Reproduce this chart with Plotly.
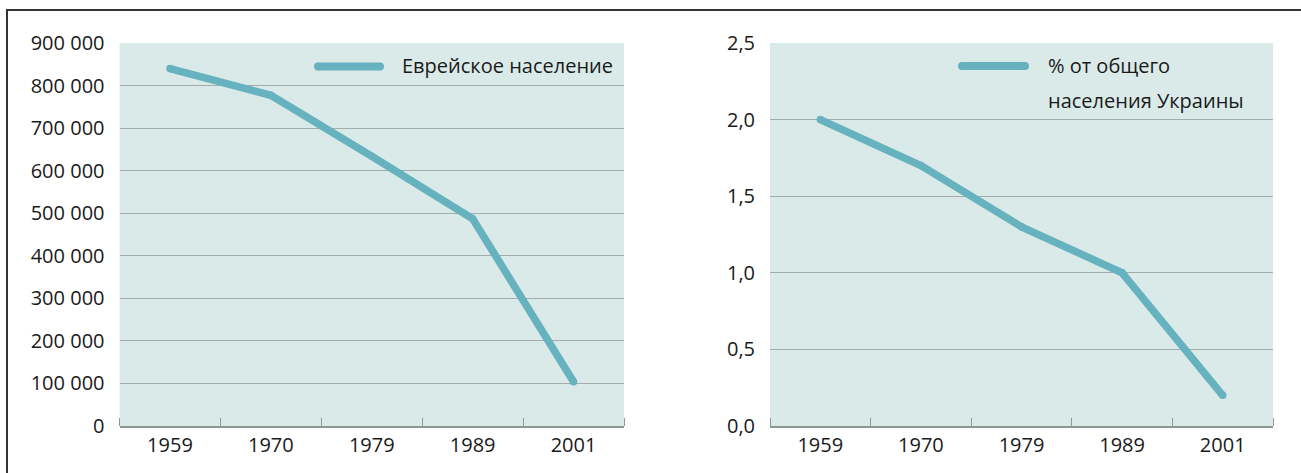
import plotly.graph_objects as go

years = ["1959", "1970", "1979", "1989", "2001"]
jewish_population = [840000, 777000, 634000, 487000, 104000]
share_of_ukraine_pct = [2.0, 1.7, 1.3, 1.0, 0.2]
legend_left = "Еврейское население"
legend_right_1 = "% от общего"
legend_right_2 = "населения Украины"

W, H = 1301, 473
LINE = "#66b2bf"
BG = "#daeae9"
GRID = "#a3abab"
FONT = "Open Sans"
FS = 20

def px(x):
    return x / W

def py(y):
    return 1 - y / H

xs = list(range(len(years)))

fig = go.Figure()
fig.add_trace(go.Scatter(x=xs, y=jewish_population, mode="lines+markers",
                         line=dict(color=LINE, width=7.5), marker=dict(color=LINE, size=7.5),
                         xaxis="x", yaxis="y", showlegend=False, hoverinfo="skip"))
fig.add_trace(go.Scatter(x=xs, y=share_of_ukraine_pct, mode="lines+markers",
                         line=dict(color=LINE, width=7.5), marker=dict(color=LINE, size=7.5),
                         xaxis="x2", yaxis="y2", showlegend=False, hoverinfo="skip"))

xcommon = dict(range=[-0.5, len(years) - 0.5], tickmode="array", tickvals=xs, ticktext=years,
               ticks="", showgrid=False, showline=True, linecolor="#8f9696", linewidth=1.5,
               zeroline=False, tickfont=dict(family=FONT, size=FS, color="#1a1a1a"),
               minor=dict(tickmode="array", tickvals=[i - 0.5 for i in range(len(years) + 1)],
                          ticks="inside", ticklen=8, tickcolor="#8f9696", tickwidth=1, showgrid=False),
               automargin=False, fixedrange=True)
ycommon = dict(showgrid=True, gridcolor=GRID, gridwidth=1, zeroline=False, showline=False,
               ticks="", tickfont=dict(family=FONT, size=FS, color="#1a1a1a"), ticklabelstandoff=14,
               automargin=False, fixedrange=True)

fig.update_layout(
    width=W, height=H,
    margin=dict(l=0, r=0, t=0, b=0, pad=0, autoexpand=False),
    paper_bgcolor="white", plot_bgcolor=BG,
    separators=", ",
    showlegend=False,
    hovermode=False,
    xaxis=dict(domain=[px(119.5), px(624)], anchor="y", **xcommon),
    yaxis=dict(domain=[py(426), py(43)], anchor="x", range=[0, 900000],
               tickvals=[i * 100000 for i in range(10)], tickformat=",d", **ycommon),
    xaxis2=dict(domain=[px(770), px(1273)], anchor="y2", **xcommon),
    yaxis2=dict(domain=[py(426), py(43)], anchor="x2", range=[0, 2.5],
                tickvals=[0, 0.5, 1.0, 1.5, 2.0, 2.5], tickformat=".1f", **ycommon),
)

shapes = []
# outer frame (left + top)
shapes.append(dict(type="line", xref="paper", yref="paper", x0=px(7), x1=px(7), y0=0, y1=py(10),
                   line=dict(color="#333333", width=2)))
shapes.append(dict(type="line", xref="paper", yref="paper", x0=px(6), x1=1, y0=py(10), y1=py(10),
                   line=dict(color="#333333", width=2)))

# legend swatches: thick line with round ends
def swatch(x0, x1, y, w=8):
    out = [dict(type="line", xref="paper", yref="paper", x0=px(x0), x1=px(x1), y0=py(y), y1=py(y),
                line=dict(color=LINE, width=w))]
    for xe in (x0, x1):
        out.append(dict(type="circle", xref="paper", yref="paper", xsizemode="pixel", ysizemode="pixel",
                        xanchor=px(xe), yanchor=py(y), x0=-w / 2, x1=w / 2, y0=-w / 2, y1=w / 2,
                        fillcolor=LINE, line=dict(width=0)))
    return out

shapes += swatch(318, 380, 66.5)
shapes += swatch(962, 1025, 66)
fig.update_layout(shapes=shapes)

ann_font = dict(family=FONT, size=FS, color="#1a1a1a")
fig.add_annotation(xref="paper", yref="paper", x=px(400), y=py(65), text=legend_left,
                   showarrow=False, xanchor="left", yanchor="middle", font=ann_font)
fig.add_annotation(xref="paper", yref="paper", x=px(1046), y=py(65), text=legend_right_1,
                   showarrow=False, xanchor="left", yanchor="middle", font=ann_font)
fig.add_annotation(xref="paper", yref="paper", x=px(1046), y=py(101), text=legend_right_2,
                   showarrow=False, xanchor="left", yanchor="middle", font=ann_font)

fig.write_html("out.html", config={"displayModeBar": False, "staticPlot": True},
               post_script="document.body.style.margin='0';")
